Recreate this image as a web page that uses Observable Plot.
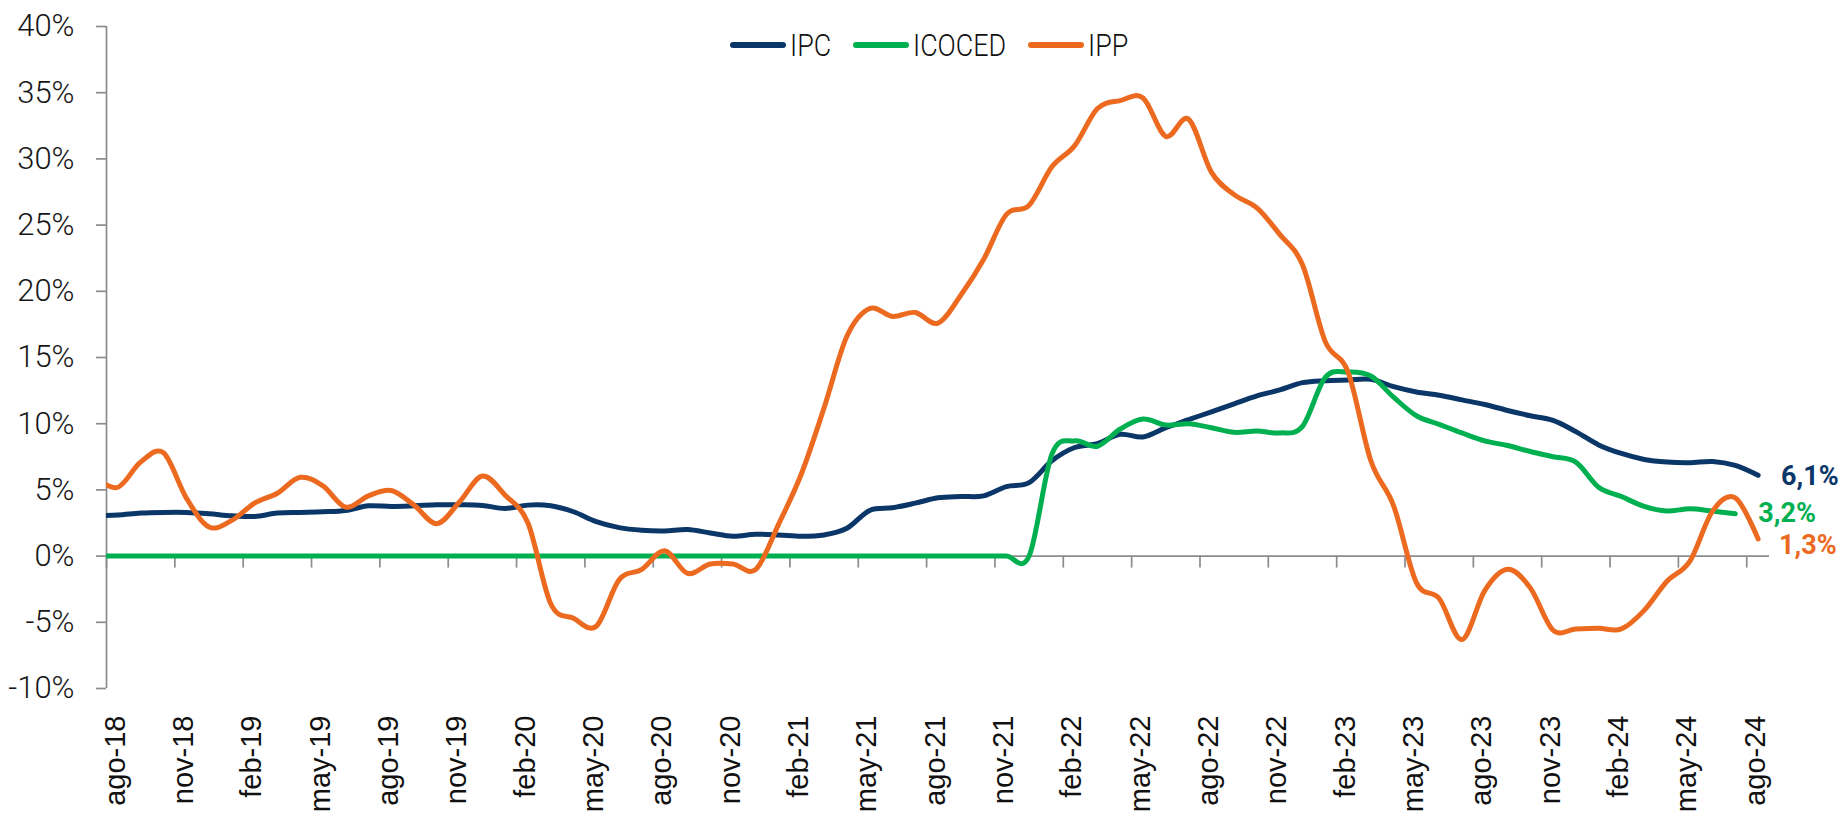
<!DOCTYPE html>
<html><head><meta charset="utf-8">
<script src="https://cdn.jsdelivr.net/npm/d3@7"></script>
<script src="https://cdn.jsdelivr.net/npm/@observablehq/plot@0.6"></script>
<style>
html,body{margin:0;padding:0;background:#fff;}
#wrap{position:relative;width:1842px;height:825px;overflow:hidden;}
.item{position:absolute;top:27px;height:36px;display:flex;align-items:center;font-family:Roboto,"Liberation Sans",sans-serif;font-weight:300;font-size:32px;color:#111;white-space:nowrap;}
.sw{width:56px;height:6px;border-radius:3px;margin-right:4px;flex:none;}
.tx{display:inline-block;transform:scaleX(0.84);transform-origin:0 50%;}
</style></head><body><div id="wrap"></div>
<script>
// Monthly series, jul-18 .. ago-24 (jul-18 lies left of the axis start and is clipped)
const months = ["jul-18","ago-18","sep-18","oct-18","nov-18","dic-18","ene-19","feb-19","mar-19","abr-19","may-19","jun-19","jul-19","ago-19","sep-19","oct-19","nov-19","dic-19","ene-20","feb-20","mar-20","abr-20","may-20","jun-20","jul-20","ago-20","sep-20","oct-20","nov-20","dic-20","ene-21","feb-21","mar-21","abr-21","may-21","jun-21","jul-21","ago-21","sep-21","oct-21","nov-21","dic-21","ene-22","feb-22","mar-22","abr-22","may-22","jun-22","jul-22","ago-22","sep-22","oct-22","nov-22","dic-22","ene-23","feb-23","mar-23","abr-23","may-23","jun-23","jul-23","ago-23","sep-23","oct-23","nov-23","dic-23","ene-24","feb-24","mar-24","abr-24","may-24","jun-24","jul-24","ago-24"];

const ipc = [3.05,3.1,3.25,3.3,3.3,3.2,3.05,3.0,3.25,3.3,3.35,3.45,3.8,3.75,3.8,3.88,3.88,3.83,3.6,3.85,3.8,3.35,2.6,2.15,1.95,1.9,2.0,1.75,1.5,1.65,1.6,1.5,1.6,2.1,3.45,3.65,4.0,4.4,4.5,4.55,5.25,5.55,7.2,8.2,8.5,9.2,9.0,9.7,10.3,10.9,11.5,12.1,12.55,13.1,13.25,13.3,13.35,12.8,12.4,12.15,11.8,11.45,11.0,10.6,10.25,9.4,8.4,7.75,7.3,7.1,7.05,7.15,6.85,6.1];

const icoced = [0,0,0,0,0,0,0,0,0,0,0,0,0,0,0,0,0,0,0,0,0,0,0,0,0,0,0,0,0,0,0,0,0,0,0,0,0,0,0,0,0,0,7.7,8.7,8.3,9.6,10.35,9.9,10.0,9.7,9.35,9.45,9.3,9.8,13.5,13.9,13.6,12.0,10.6,9.95,9.3,8.7,8.35,7.9,7.5,7.1,5.2,4.5,3.75,3.4,3.58,3.4,3.2];

const ipp = [5.9,5.2,7.1,7.8,4.4,2.2,2.7,4.0,4.75,5.95,5.3,3.7,4.55,4.95,3.85,2.45,4.1,6.05,4.6,2.5,-3.6,-4.7,-5.3,-1.8,-1.0,0.4,-1.3,-0.6,-0.6,-1.0,2.4,6.2,11.2,16.6,18.7,18.1,18.4,17.6,19.7,22.4,25.8,26.5,29.4,31.0,33.8,34.4,34.6,31.7,33.0,29.0,27.3,26.3,24.3,22.0,16.2,13.9,7.2,3.8,-2.0,-3.2,-6.3,-2.6,-1.0,-2.4,-5.6,-5.5,-5.45,-5.5,-4.1,-1.9,-0.4,3.4,4.4,1.3];

const yTicks = [-10,-5,0,5,10,15,20,25,30,35,40];
const seriesNames = ["IPC","ICOCED","IPP"];
const seriesColors = ["#0b3768","#00b050","#ec6a1f"];
const seriesValues = [ipc, icoced, ipp];

// month k (0 = jul-18) sits mid-month: t = months since start of ago-18
const rows = seriesValues.map((vals, s) => vals.map((v, k) => ({t: k - 0.5, v, s: seriesNames[s]})));
const tickRows = months.map((m, k) => ({t: k - 1, label: m})).filter(d => d.t >= 0 && d.t % 3 === 0);
const fmt = v => String(v.toFixed(1)).replace(".", ",") + "%";
const lastRows = rows.map(r => [r[r.length - 1]]);

const numFont = 'Roboto,"Liberation Sans",sans-serif';
const axisGrey = "#8c8c8c";
const curve = d3.curveCatmullRom.alpha(0);
const endOffsets = [{dx: 23, dy: 1}, {dx: 23, dy: 0}, {dx: 21, dy: 6}];

const chart = Plot.plot({
  width: 1842,
  height: 825,
  marginLeft: 106,
  marginRight: 73,
  marginTop: 26,
  marginBottom: 137,
  style: {fontFamily: numFont, background: "#fff", overflow: "visible"},
  x: {type: "linear", domain: [0, 73], axis: null},
  y: {domain: [-10, 40], axis: null},
  marks: [
    Plot.ruleY([0], {stroke: axisGrey, strokeWidth: 1.7}),
    Plot.ruleX(tickRows, {x: "t", y1: () => 0, y2: () => 0, insetBottom: -12, stroke: axisGrey, strokeWidth: 1.7}),
    Plot.ruleX([0], {stroke: axisGrey, strokeWidth: 1.7}),
    Plot.axisY(yTicks, {anchor: "left", label: null, tickSize: 10, tickPadding: 22, tickFormat: d => d + "%", fontSize: 31, fontWeight: 300, stroke: axisGrey, strokeWidth: 1.7, fill: "#161616", fontFamily: numFont}),
    Plot.text(tickRows, {x: "t", text: "label", frameAnchor: "bottom", rotate: -90, textAnchor: "end", dx: 18, dy: 27, fontSize: 29, fill: "#111", fontFamily: '"Liberation Sans",Arial,sans-serif'}),
    ...rows.map((r, s) => Plot.line(r, {x: "t", y: "v", stroke: seriesColors[s], strokeWidth: 5, curve, clip: true, strokeLinecap: "round", strokeLinejoin: "round"})),
    ...lastRows.map((r, s) => Plot.text(r, {x: "t", y: "v", text: d => fmt(d.v), textAnchor: "start", dx: endOffsets[s].dx, dy: endOffsets[s].dy, fill: seriesColors[s], fontSize: 27, fontWeight: "bold", fontFamily: numFont}))
  ]
});

const wrap = document.getElementById("wrap");
wrap.appendChild(chart);

// Legend (above the plot, overlaid)
const legendLeft = [730, 853, 1028];
seriesNames.forEach((name, s) => {
  const it = document.createElement("div");
  it.className = "item";
  it.style.left = legendLeft[s] + "px";
  const sw = document.createElement("span");
  sw.className = "sw";
  sw.style.background = seriesColors[s];
  const tx = document.createElement("span");
  tx.className = "tx";
  tx.textContent = name;
  it.appendChild(sw); it.appendChild(tx);
  wrap.appendChild(it);
});
</script>
</body></html>
